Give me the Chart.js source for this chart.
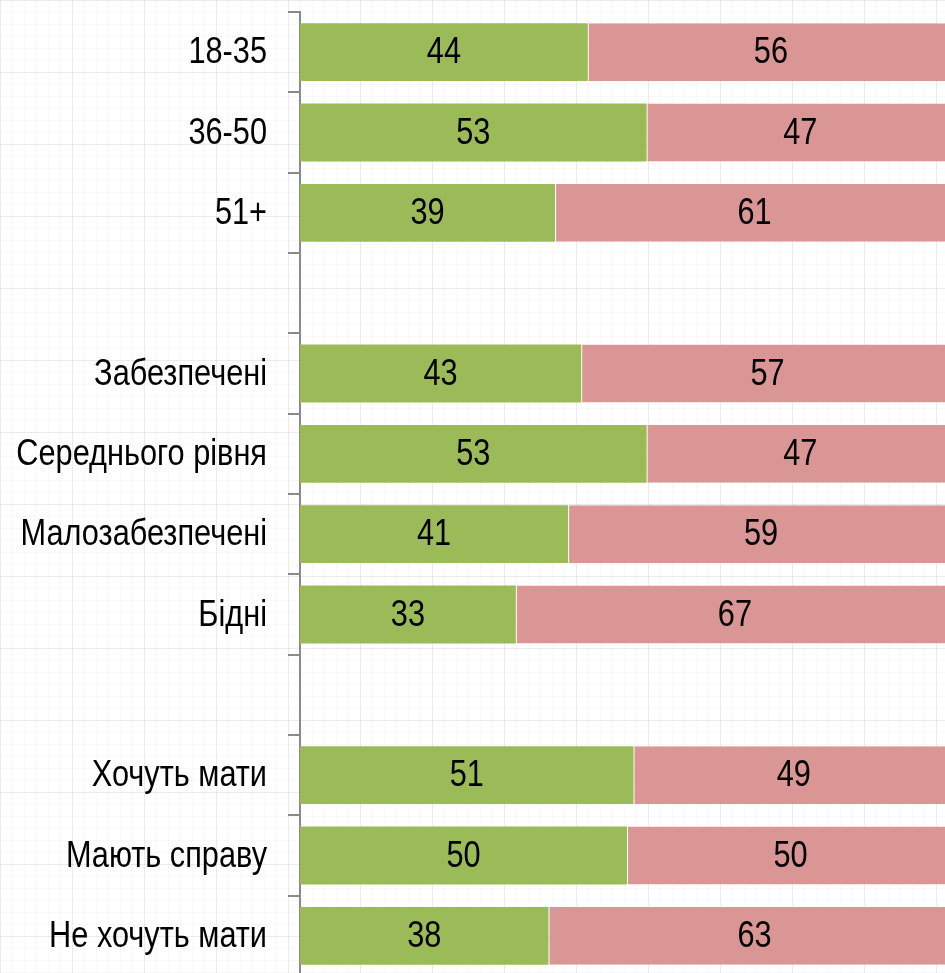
<!DOCTYPE html>
<html>
<head>
<meta charset="utf-8">
<script src="https://cdn.jsdelivr.net/npm/chart.js@4"></script>
<style>
    html, body {
        margin: 0;
        padding: 0;
        overflow: hidden;
        width: 945px;
        height: 973px;
    }
    body {
        background-color: #fff;
        background-image:
            linear-gradient(to right, rgba(0,0,0,0.055) 1px, transparent 1px),
            linear-gradient(to bottom, rgba(0,0,0,0.055) 1px, transparent 1px),
            linear-gradient(to right, rgba(0,0,0,0.025) 1px, transparent 1px),
            linear-gradient(to bottom, rgba(0,0,0,0.025) 1px, transparent 1px);
        background-size: 72px 72px, 72px 72px, 12px 12px, 12px 12px;
    }
    #wrap {
        position: absolute;
        left: 0;
        top: 0;
        width: 954px;
        height: 976px;
    }
</style>
</head>
<body>
<div id="wrap"><canvas id="chart"></canvas></div>
<script>
// ===================================
// DATA
// ===================================
const categories = [
    '18-35', '36-50', '51+', '',
    'Забезпечені', 'Середнього рівня', 'Малозабезпечені', 'Бідні', '',
    'Хочуть мати', 'Мають справу', 'Не хочуть мати'
];
const greenValues = [44, 53, 39, null, 43, 53, 41, 33, null, 51, 50, 38];
const pinkValues  = [56, 47, 61, null, 57, 47, 59, 67, null, 49, 50, 63];

const FONT = '"Liberation Sans", Arial, sans-serif';
const FONT_SIZE = 37;
const NARROW = 0.83; // squeeze text horizontally, like Arial Narrow

// draw text squeezed horizontally around its anchor point
function narrowText(ctx, text, x, y) {
    ctx.save();
    ctx.translate(x, y);
    ctx.scale(NARROW, 1);
    ctx.fillText(text, 0, 0);
    ctx.restore();
}

// Category labels + value in the middle of every segment
const textLayer = {
    id: 'textLayer',
    afterDraw(chart) {
        const ctx = chart.ctx;
        const yScale = chart.scales.y;
        ctx.save();
        ctx.fillStyle = '#000';
        ctx.font = FONT_SIZE + 'px ' + FONT;
        ctx.textBaseline = 'middle';

        // category labels
        ctx.textAlign = 'right';
        categories.forEach((label, j) => {
            if (!label) return;
            narrowText(ctx, label, 267, yScale.getPixelForValue(j) + 1);
        });

        // segment values
        ctx.textAlign = 'center';
        chart.data.datasets.forEach((ds, i) => {
            chart.getDatasetMeta(i).data.forEach((bar, j) => {
                const v = ds.data[j];
                if (v === null || v === undefined) return;
                narrowText(ctx, String(v), (bar.x + bar.base) / 2, bar.y + 1);
            });
        });
        ctx.restore();
    }
};

new Chart(document.getElementById('chart').getContext('2d'), {
    type: 'bar',
    data: {
        labels: categories,
        datasets: [
            {
                data: greenValues,
                backgroundColor: '#9BBB59',
                borderWidth: 0,
                barPercentage: 0.9,
                categoryPercentage: 0.8
            },
            {
                data: pinkValues,
                backgroundColor: '#D99694',
                borderColor: '#ffffff',
                borderWidth: { left: 1, right: 0, top: 0, bottom: 0 },
                borderSkipped: false,
                barPercentage: 0.9,
                categoryPercentage: 0.8
            }
        ]
    },
    options: {
        indexAxis: 'y',
        responsive: true,
        maintainAspectRatio: false,
        animation: false,
        layout: { padding: { top: 12, bottom: 0, left: 0, right: 0 } },
        scales: {
            x: {
                stacked: true,
                min: 0,
                max: 100,
                display: false
            },
            y: {
                stacked: true,
                afterFit: (scale) => {
                    scale.width = 300;
                    scale.paddingTop = 0;
                    scale.paddingBottom = 0;
                },
                border: { display: true, color: '#8a8a8a', width: 2 },
                grid: {
                    offset: true,
                    drawOnChartArea: false,
                    drawTicks: true,
                    tickLength: 12,
                    color: '#8a8a8a',
                    lineWidth: 2
                },
                ticks: { display: false }
            }
        },
        plugins: {
            legend: { display: false },
            tooltip: { enabled: false }
        }
    },
    plugins: [textLayer]
});
</script>
</body>
</html>
